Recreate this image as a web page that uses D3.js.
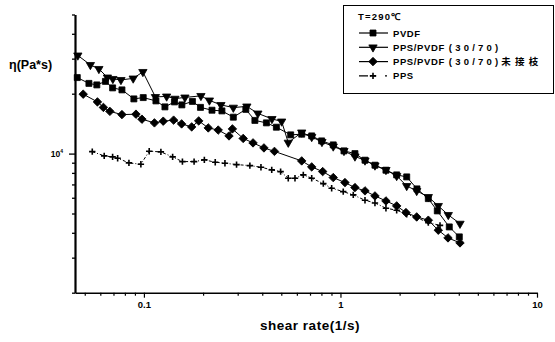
<!DOCTYPE html>
<html>
<head>
<meta charset="utf-8">
<script src="https://cdn.jsdelivr.net/npm/d3@7"></script>
<style>
  body { margin: 0; background: #fff; }
  text { font-family: "Liberation Sans", Arial, sans-serif; font-weight: bold; fill: #000; }
</style>
</head>
<body>
<div id="chart"></div>
<script>
// shear rate (1/s) and viscosity (Pa*s)
const pvdfRate = [0.0458, 0.0525, 0.0576, 0.0637, 0.0693, 0.0773, 0.0889, 0.0992, 0.1151, 0.1279,
  0.143, 0.156, 0.1765, 0.194, 0.222, 0.2494, 0.285, 0.330, 0.367, 0.420, 0.472, 0.558, 0.635,
  0.714, 0.802, 0.919, 1.042, 1.185, 1.333, 1.498, 1.704, 1.932, 2.173, 2.451, 2.799, 3.110, 3.579, 4.024];
const pvdfEta = [24100, 22530, 22140, 23060, 21390, 20900, 18830, 19120, 18400, 17170,
  18190, 17570, 18290, 17070, 16520, 16390, 15240, 16680, 14680, 14270, 13570, 12420, 12520,
  12270, 11580, 11060, 10320, 10000, 9265, 8745, 8252, 7816, 7637, 6647, 5940, 5153, 4281, 3815];

const blendRate = [0.0461, 0.0534, 0.0590, 0.0652, 0.0695, 0.0764, 0.0882, 0.0988, 0.1144, 0.1305,
  0.1438, 0.1617, 0.195, 0.2154, 0.2465, 0.285, 0.334, 0.380, 0.448, 0.502, 0.5425, 0.635,
  0.714, 0.805, 0.919, 1.042, 1.185, 1.333, 1.498, 1.704, 1.932, 2.173, 2.443, 2.799, 3.146, 3.537, 4.057];
const blendEta = [31150, 27910, 26650, 24150, 23740, 23460, 23870, 25740, 19270, 19380,
  18890, 19160, 19500, 18510, 17570, 17030, 17270, 15920, 14940, 14510, 11360, 12780,
  12130, 11450, 10870, 10320, 9681, 9243, 8724, 8282, 7725, 6882, 6497, 6057, 5461, 4920, 4447];

const ungraftRate = [0.0491, 0.0580, 0.0622, 0.0671, 0.0773, 0.0911, 0.0977, 0.1131, 0.1254, 0.1416,
  0.1555, 0.175, 0.190, 0.2125, 0.2388, 0.271, 0.282, 0.320, 0.359, 0.408, 0.4615, 0.635,
  0.714, 0.812, 0.919, 1.054, 1.185, 1.333, 1.498, 1.704, 1.932, 2.154, 2.443, 2.799, 3.146, 3.525, 4.057];
const ungraftEta = [19890, 18190, 17070, 16300, 15700, 15780, 14890, 14270, 14550, 14730,
  14100, 13620, 14600, 13460, 13130, 12270, 13310, 11920, 11320, 10680, 10260, 9190,
  8574, 8120, 7576, 7151, 6747, 6497, 6128, 5783, 5461, 5054, 4807, 4627, 4122, 3771, 3559];

const ppsRate = [0.0546, 0.0628, 0.0693, 0.0735, 0.0839, 0.0965, 0.1064, 0.1220, 0.140, 0.157,
  0.180, 0.203, 0.2306, 0.2584, 0.296, 0.346, 0.394, 0.447, 0.496, 0.5425, 0.587, 0.647,
  0.714, 0.818, 0.902, 1.033, 1.162, 1.333, 1.498, 1.704, 1.932, 2.173, 2.443, 2.799, 3.210];
const ppsEta = [10230, 9737, 9625, 9482, 8981, 8845, 10280, 10200, 9625, 9117,
  9117, 9297, 9053, 8949, 8805, 8704, 8545, 8282, 8120, 7524, 7524, 7816,
  7524, 7068, 6700, 6442, 6200, 5830, 5651, 5317, 5195, 4960, 4769, 4499, 4357];

// legend labels split in parts so the wide scanned lettering can be matched
const seriesNames = [["PVDF"], ["PPS/PVDF", "(30/70)"], ["PPS/PVDF", "(30/70)", "未 接 枝"], ["PPS"]];
const xTickLabels = ["0.1", "1", "10"];
const legendTitle = "T=290℃";

const width = 555, height = 342;
const svg = d3.select("#chart").append("svg")
  .attr("width", width).attr("height", height);

const x = d3.scaleLog().domain([0.0446, 10]).range([75, 537]);
const y = d3.scaleLog().domain([2000, 50000]).range([292.7, 14.5]);

// minor + major ticks
const xTicks = [];
[0.01, 0.1, 1].forEach(dec => { for (let k = 1; k <= 9; k++) xTicks.push(dec * k); });
xTicks.push(10);
const xMinor = xTicks.filter(v => v >= 0.0446 && v <= 10);
const yTicks = [];
[1000, 10000].forEach(dec => { for (let k = 1; k <= 9; k++) yTicks.push(dec * k); });
const yMinor = yTicks.filter(v => v >= 2000 && v <= 50000);

const isMajor = v => Math.abs(Math.log10(v) - Math.round(Math.log10(v))) < 1e-6;

// x axis
const xAxis = d3.axisBottom(x)
  .tickValues(xMinor)
  .tickSizeOuter(0)
  .tickFormat(v => isMajor(v) ? xTickLabels[Math.round(Math.log10(v)) + 1] : "");
const gx = svg.append("g").attr("transform", `translate(0,${y.range()[0]})`).call(xAxis);
gx.select(".domain").attr("stroke-width", 1.6);
gx.selectAll(".tick line").attr("y2", v => isMajor(v) ? 5 : 3).attr("stroke-width", 1.2);
gx.selectAll(".tick text").attr("y", 9).style("font-size", "9.5px")
  .style("font-family", "Liberation Sans, Arial").style("font-weight", "bold");

// y axis
const yAxis = d3.axisLeft(y)
  .tickValues(yMinor)
  .tickSizeOuter(0)
  .tickFormat(() => "");
const gy = svg.append("g").attr("transform", `translate(${x.range()[0]},0)`).call(yAxis);
gy.select(".domain").attr("stroke-width", 2.2);
gy.selectAll(".tick line").attr("x2", v => isMajor(v) ? -6 : -3).attr("stroke-width", 1.3);

svg.append("text").attr("x", 63).attr("y", y(10000) + 3)
  .attr("text-anchor", "end").style("font-size", "8.5px").text("10")
  .append("tspan").attr("dy", -4).style("font-size", "5px").text("4");

// axis titles
svg.append("text").attr("x", 9).attr("y", 69).style("font-size", "12.5px").text("η(Pa*s)");
svg.append("text").attr("x", 310).attr("y", 330).attr("text-anchor", "middle")
  .style("font-size", "13.5px").style("letter-spacing", "0.5px").text("shear rate(1/s)");

// marker shapes
const symSquare = d3.symbol().type(d3.symbolSquare).size(36)();
const symTri = d3.symbol().type(d3.symbolTriangle).size(30)();
const symDiamond = d3.symbol().type(d3.symbolSquare).size(36)();
const symPlus = "M-3.2,0H3.2M0,-3.2V3.2";

const series = [
  { rate: pvdfRate, eta: pvdfEta, sym: symSquare, rot: 0, dash: null },
  { rate: blendRate, eta: blendEta, sym: symTri, rot: 180, dash: null },
  { rate: ungraftRate, eta: ungraftEta, sym: symDiamond, rot: 45, dash: null },
  { rate: ppsRate, eta: ppsEta, sym: symPlus, rot: 0, dash: "3,2,1,2", plus: true }
];

const line = d3.line().x(d => x(d[0])).y(d => y(d[1]));

series.forEach(s => {
  const pts = s.rate.map((r, i) => [r, s.eta[i]]);
  svg.append("path").datum(pts)
    .attr("d", line).attr("fill", "none").attr("stroke", "#000")
    .attr("stroke-width", 1).attr("stroke-dasharray", s.dash);
  svg.append("g").selectAll("path").data(pts).enter().append("path")
    .attr("d", s.sym)
    .attr("transform", d => `translate(${x(d[0])},${y(d[1])}) rotate(${s.rot})`)
    .attr("fill", s.plus ? "none" : "#000")
    .attr("stroke", "#000")
    .attr("stroke-width", s.plus ? 1.6 : 0.8);
});

// legend
const lg = svg.append("g");
lg.append("rect").attr("x", 343.5).attr("y", 5.5).attr("width", 210).attr("height", 88)
  .attr("fill", "#fff").attr("stroke", "#000").attr("stroke-width", 1);
lg.append("text").attr("x", 358).attr("y", 20).style("font-size", "9.5px")
  .style("letter-spacing", "1.2px").text(legendTitle);
const partSpacing = ["0.6px", "3.2px", "1px"];
series.forEach((s, i) => {
  const yy = 33 + i * 14.3;
  lg.append("line").attr("x1", 359).attr("x2", 388).attr("y1", yy).attr("y2", yy)
    .attr("stroke", "#000").attr("stroke-width", 1.2).attr("stroke-dasharray", s.dash ? "9,2,1,2,3" : null);
  lg.append("path").attr("d", s.sym)
    .attr("transform", `translate(373,${yy}) rotate(${s.rot})`)
    .attr("fill", s.plus ? "none" : "#000").attr("stroke", "#000")
    .attr("stroke-width", s.plus ? 1.6 : 0.8);
  const t = lg.append("text").attr("x", 393).attr("y", yy + 3.5).style("font-size", "9.5px")
    .style("font-family", "Liberation Sans, Noto Sans CJK SC, sans-serif");
  seriesNames[i].forEach((part, j) => {
    t.append("tspan").attr("dx", j === 0 ? 0 : (j === 2 ? 0 : 4))
      .style("letter-spacing", partSpacing[j])
      .style("font-family", j === 2 ? "Noto Sans CJK SC, sans-serif" : null)
      .text(part);
  });
});
</script>
</body>
</html>
